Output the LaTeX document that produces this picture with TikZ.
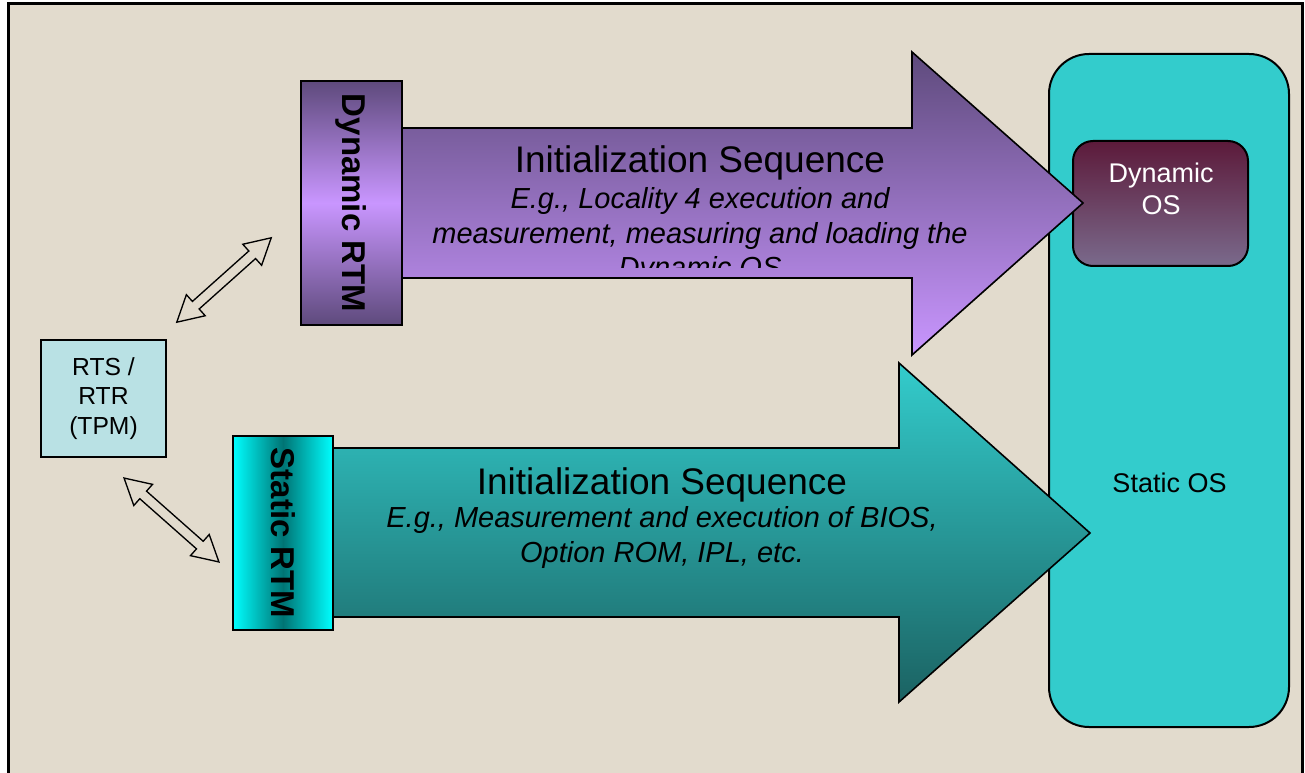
\documentclass[tikz,border=0pt]{standalone}
\usepackage{fontspec}
\setmainfont{Liberation Sans}
\usepackage{tikz}
\usetikzlibrary{shapes.arrows}
\definecolor{paper}{HTML}{E2DBCD}
\definecolor{darkviolet}{HTML}{5E4A7C}
\definecolor{lightviolet}{HTML}{C996FF}
\definecolor{tealos}{HTML}{33CCCC}
\definecolor{deepteal}{HTML}{1B6262}
\definecolor{rtmteal}{HTML}{007474}
\definecolor{winered}{HTML}{5C1A3A}
\definecolor{greyviolet}{HTML}{7A6A8C}
\definecolor{tpmblue}{HTML}{B9E1E4}

\begin{document}
\begin{tikzpicture}[x=0.75pt, y=-0.75pt,
    box/.style={draw, line width=1.5pt, inner sep=0pt},
    rtmlabel/.style={rotate=-90, inner sep=0pt, font=\fontsize{24.75}{29}\selectfont\bfseries},
    titletext/.style={anchor=base, inner sep=0pt, font=\fontsize{27.75}{33}\selectfont},
    notetext/.style={anchor=base, inner sep=0pt, align=center, font=\fontsize{21.75}{26}\selectfont\itshape},
    ostext/.style={anchor=base, inner sep=0pt, align=center, font=\fontsize{20.25}{24}\selectfont},
    dblarrow/.style={double arrow, draw, line width=1pt, sloped, midway,
      minimum height=95pt, minimum width=20.25pt, inner sep=3.3pt,
      double arrow head extend=6.8pt, double arrow tip angle=58}]
      \useasboundingbox (0,0) rectangle (1305,773);
      \fill[white] (0,0) rectangle (1305,773);
      \draw[line width=2.25pt, fill=paper] (8,4) rectangle (1302,800);

      % operating systems
      \node[box, fill=tealos, rounded corners=30pt, minimum width=180pt, minimum height=504.75pt] (sos) at (1169,390.5) {};
      \node[ostext] (sostxt) at (1169.5,492) {Static OS};
      \node[box, rounded corners=15pt, top color=winered, bottom color=greyviolet, minimum width=131.25pt, minimum height=93.75pt] (dos) at (1160.5,203.5) {};
      \node[ostext, text=white] (dostxt) at (1161,215) {Dynamic\\OS};

      % big arrows
      \draw[line width=1.2pt, top color=darkviolet, bottom color=lightviolet]
        (402,128) -- (912,128) -- (912,52) -- (1083,203) -- (912,355) -- (912,278) -- (402,278) -- cycle;
      \draw[line width=1.2pt, top color=tealos, bottom color=deepteal]
        (333,448) -- (899,448) -- (899,363) -- (1090,533) -- (899,702) -- (899,617) -- (333,617) -- cycle;

      \node[titletext] (dtitle) at (700,173) {Initialization Sequence};
      \begin{scope}
        \clip (402,128) rectangle (1000,268);
        \node[notetext] (dnote) at (700,278) {E.g., Locality 4 execution and\\measurement, measuring and loading the\\Dynamic OS};
      \end{scope}
      \node[titletext] (stitle) at (662,494) {Initialization Sequence};
      \node[notetext] (snote) at (662,562) {E.g., Measurement and execution of BIOS,\\Option ROM, IPL, etc.};

      % roots of trust
      \node[box, line width=2pt, top color=darkviolet, bottom color=darkviolet, middle color=lightviolet, minimum width=75.75pt, minimum height=183pt] (drtm) at (351.5,203) {};
      \node[rtmlabel] (drtmtxt) at (drtm) {Dynamic RTM};
      \node[box, line width=2pt, left color=cyan, right color=cyan, middle color=rtmteal, minimum width=75pt, minimum height=145.5pt] (srtm) at (283,533) {};
      \node[rtmlabel] (srtmtxt) at (srtm) {Static RTM};
      \node[box, fill=tpmblue, align=center, minimum width=93.75pt, minimum height=87.75pt, font=\fontsize{18.5}{22}\selectfont] (tpm) at (103.5,398.5) {RTS /\\RTR\\(TPM)};

      \coordinate (u1) at (177,322);
      \coordinate (u2) at (271,238);
      \coordinate (l1) at (124,478);
      \coordinate (l2) at (219,562);
      \path (u1) -- (u2) node[dblarrow] (uarr) {};
      \path (l1) -- (l2) node[dblarrow] (larr) {};
    \end{tikzpicture}
\end{document}
